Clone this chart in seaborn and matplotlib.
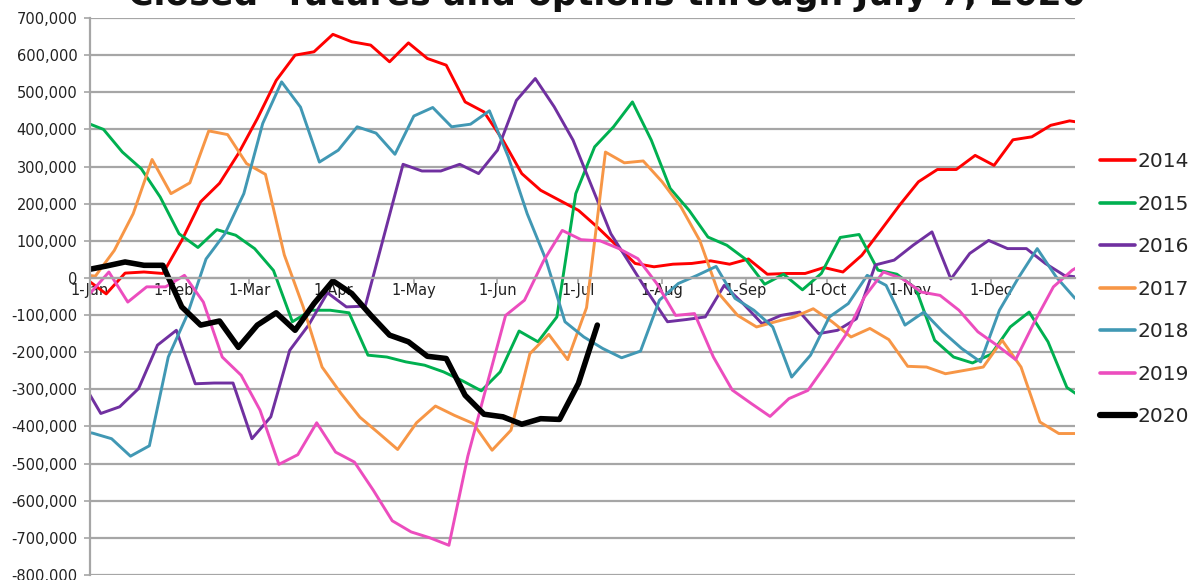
import matplotlib
matplotlib.use("Agg")
import matplotlib.pyplot as plt
from matplotlib.lines import Line2D
from matplotlib.ticker import FuncFormatter, MultipleLocator
import pandas as pd
import seaborn as sns

# Weekly (Tuesday) readings in thousands of contracts.
# Each year starts with the last Tuesday of the year before (clipped at 1-Jan)
# and ends with the first Tuesday of the following year (clipped at 31-Dec).
v2014 = [-5, -43, 13, 16, 12, 101, 205, 255, 335, 429, 532, 600, 609, 656, 636, 627, 582, 633,
         591, 573, 474, 447, 371, 281, 236, 209, 182, 137, 88, 39, 30, 37, 39, 46, 37, 51,
         10, 12, 12, 28, 16, 61, 128, 196, 259, 292, 292, 330, 303, 372, 380, 411, 423, 415]
v2015 = [420, 400, 339, 294, 218, 119, 82, 130, 115, 79, 20, -118, -87, -87, -94, -208, -213, -226,
         -235, -253, -277, -304, -253, -143, -172, -105, 227, 353, 407, 474, 371, 241, 182, 110, 88, 50,
         -17, 10, -32, 12, 109, 117, 21, 10, -28, -168, -213, -229, -205, -132, -92, -172, -295, -330]
v2016 = [-278, -365, -347, -298, -181, -141, -285, -283, -283, -433, -374, -195, -127, -40, -78, -76, 115, 306,
         288, 288, 306, 281, 344, 478, 537, 461, 371, 245, 119, 39, -42, -118, -112, -105, -20, -69,
         -123, -101, -92, -150, -141, -110, 35, 48, 88, 124, -3, 66, 101, 79, 79, 39, 7, 0]
v2017 = [10, 5, 74, 173, 319, 227, 256, 396, 386, 308, 279, 62, -78, -240, -311, -375, -418, -462,
         -390, -345, -370, -392, -464, -410, -204, -152, -220, -80, 339, 310, 315, 259, 191, 100, -42, -101,
         -132, -118, -105, -83, -118, -159, -136, -166, -238, -240, -258, -249, -240, -168, -240, -388, -419, -419]
v2018 = [-410, -418, -433, -480, -452, -213, -100, 51, 119, 227, 416, 528, 460, 312, 344, 407, 390, 333,
         436, 459, 407, 414, 450, 326, 173, 48, -118, -159, -190, -215, -197, -60, -15, 7, 31, -55,
         -87, -132, -267, -208, -105, -69, 7, -20, -127, -92, -145, -190, -226, -87, 0, 79, 3, -55]
v2019 = [-42, 16, -65, -24, -24, 7, -65, -213, -262, -356, -502, -476, -390, -469, -496, -572, -654, -684,
         -700, -720, -480, -290, -101, -60, 45, 128, 103, 100, 79, 52, -15, -101, -96, -213, -302, -338,
         -373, -325, -303, -231, -154, -51, 16, -2, -38, -47, -87, -145, -181, -220, -118, -24, 21, 50]
v2020 = [22, 32, 43, 34, 34, -78, -127, -116, -187, -127, -94, -141, -69, -8,
         -42, -100, -154, -172, -211, -217, -316, -367, -374, -394, -379, -381, -284, -127]

series = {'2014': v2014, '2015': v2015, '2016': v2016, '2017': v2017,
          '2018': v2018, '2019': v2019, '2020': v2020}
colors = {'2014': '#FF0000', '2015': '#00B050', '2016': '#7030A0', '2017': '#F79646',
          '2018': '#4198B4', '2019': '#EC4DBE', '2020': '#000000'}

month_days = [0, 31, 59, 90, 120, 151, 181, 212, 243, 273, 304, 334]
month_labels = ['1-Jan', '1-Feb', '1-Mar', '1-Apr', '1-May', '1-Jun',
                '1-Jul', '1-Aug', '1-Sep', '1-Oct', '1-Nov', '1-Dec']

# Build long table: day of year of each Tuesday report
frames = []
for year, vals in series.items():
    y = int(year)
    dates = pd.date_range(f'{y - 1}-12-26', periods=len(vals), freq='W-TUE')
    days = (dates - pd.Timestamp(f'{y}-01-01')).days
    frames.append(pd.DataFrame({'day': days, 'value': [v * 1000 for v in vals], 'year': year}))
df = pd.concat(frames, ignore_index=True)

sns.set_theme(style='white')
plt.rcParams['font.family'] = ['DejaVu Sans']

fig = plt.figure(figsize=(11.96, 5.80), dpi=100)
ax = fig.add_axes([90 / 1196, 5 / 580, 985 / 1196, 557 / 580])

past = df[df['year'] != '2020']
sns.lineplot(data=past, x='day', y='value', hue='year', palette=colors,
             estimator=None, sort=False, linewidth=2.1, legend=False, ax=ax)
sns.lineplot(data=df[df['year'] == '2020'], x='day', y='value', color='#000000',
             estimator=None, sort=False, linewidth=4.0, legend=False, ax=ax)

ax.set_xlim(0, 365)
ax.set_ylim(-800000, 700000)
ax.yaxis.set_major_locator(MultipleLocator(100000))
ax.yaxis.set_major_formatter(FuncFormatter(lambda v, p: f'{int(round(v)):,}'))
ax.set_xticks(month_days)
ax.set_xticklabels(month_labels)
ax.set_xlabel('')
ax.set_ylabel('')

grid_col = '#A6A6A6'
ax.grid(axis='y', color=grid_col, linewidth=1.6)
ax.grid(axis='x', visible=False)
ax.set_axisbelow(True)
for side in ['top', 'right']:
    ax.spines[side].set_visible(False)
ax.spines['left'].set_color(grid_col)
ax.spines['left'].set_linewidth(1.6)
ax.spines['bottom'].set_position(('data', 0))
ax.spines['bottom'].set_color(grid_col)
ax.spines['bottom'].set_linewidth(1.6)
ax.tick_params(axis='y', which='major', direction='out', length=4, width=1.2,
               color=grid_col, labelsize=10.5, labelcolor='#222222', pad=5, left=True)
ax.tick_params(axis='x', which='major', direction='out', length=4, width=1.2,
               color=grid_col, labelsize=10.5, labelcolor='#222222', pad=0, bottom=True)

handles = [Line2D([], [], color=colors[y], linewidth=4.5 if y == '2020' else 2.6)
           for y in series]
ax.legend(handles, list(series), loc='center left', bbox_to_anchor=(1.025, 0.513),
          frameon=False, fontsize=14.5, handlelength=1.75, handletextpad=0.15,
          labelspacing=1.17, borderpad=0, borderaxespad=0)

fig.text(0.5, 1 - 5 / 580, '"Closed" futures and options through July 7, 2020',
         ha='center', va='baseline', fontsize=25, fontweight='bold', color='#111111')

fig.savefig('out.png', dpi=100)
